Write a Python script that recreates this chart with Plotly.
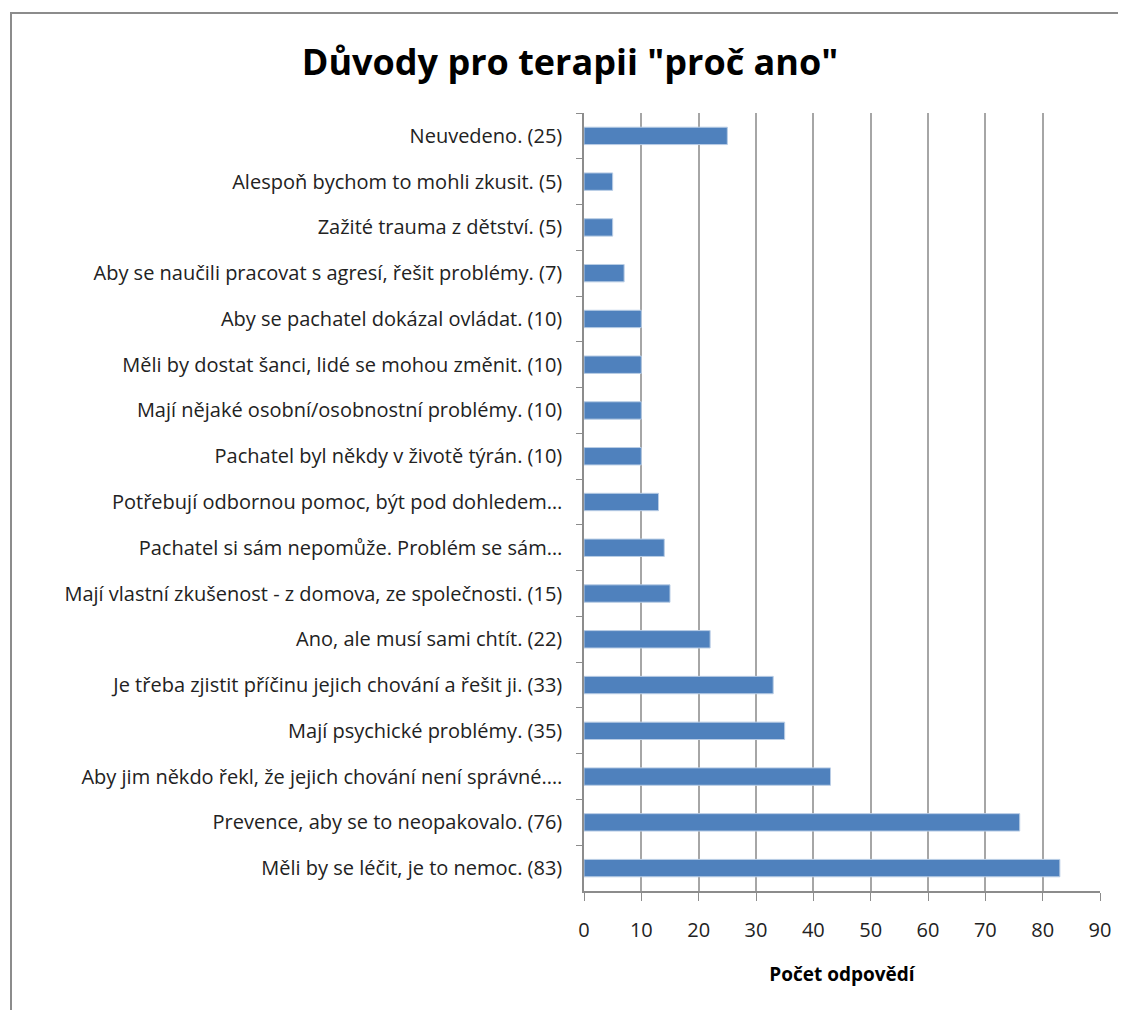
import plotly.graph_objects as go

# categories listed from top to bottom as in the chart
labels = [
    "Neuvedeno. (25)",
    "Alespoň bychom to mohli zkusit. (5)",
    "Zažité trauma z dětství. (5)",
    "Aby se naučili pracovat s agresí, řešit problémy. (7)",
    "Aby se pachatel dokázal ovládat. (10)",
    "Měli by dostat šanci, lidé se mohou změnit. (10)",
    "Mají nějaké osobní/osobnostní problémy. (10)",
    "Pachatel byl někdy v životě týrán. (10)",
    "Potřebují odbornou pomoc, být pod dohledem…",
    "Pachatel si sám nepomůže. Problém se sám…",
    "Mají vlastní zkušenost - z domova, ze společnosti. (15)",
    "Ano, ale musí sami chtít. (22)",
    "Je třeba zjistit příčinu jejich chování a řešit ji. (33)",
    "Mají psychické problémy. (35)",
    "Aby jim někdo řekl, že jejich chování není správné.…",
    "Prevence, aby se to neopakovalo. (76)",
    "Měli by se léčit, je to nemoc. (83)",
]
counts = [25, 5, 5, 7, 10, 10, 10, 10, 13, 14, 15, 22, 33, 35, 43, 76, 83]
x_ticks = list(range(0, 91, 10))

# the page body adds an 8px margin, so the figure is 8px smaller
W, H = 1118, 1002
L, R, T, B = 576, 26, 105, 119
pw, ph = W - L - R, H - T - B

fig = go.Figure()
fig.add_trace(go.Bar(
    x=counts, y=labels, orientation="h",
    marker=dict(color="#4f81bd", line=dict(color="#b9cde5", width=1)),
    hoverinfo="x+y",
))

font = "'Open Sans', Lato, sans-serif"

fig.update_layout(
    width=W, height=H,
    margin=dict(l=L, r=R, t=T, b=B, autoexpand=False),
    paper_bgcolor="white", plot_bgcolor="white",
    bargap=0.62,
    showlegend=False,
    font=dict(family=font, color="#1a1a1a"),
    title=dict(text='<b>Důvody pro terapii "proč ano"</b>',
               x=562 / W, xanchor="center", y=1 - 54 / H, yanchor="middle",
               font=dict(size=36, color="black")),
    xaxis=dict(
        range=[0, 90], tickvals=x_ticks, showgrid=True,
        gridcolor="#a6a6a6", gridwidth=1.5,
        showline=True, linecolor="#8c8c8c", linewidth=1.5,
        ticks="outside", ticklen=8, tickcolor="#8c8c8c",
        tickfont=dict(size=20, color="#222"), ticklabelstandoff=12,
        zeroline=False,
        title=dict(text="<b>Počet odpovědí</b>", font=dict(size=19, color="black"), standoff=26),
    ),
    yaxis=dict(
        autorange="reversed", type="category",
        showline=True, linecolor="#8c8c8c", linewidth=1.5,
        ticks="outside", ticklen=6, tickcolor="#8c8c8c", tickson="boundaries",
        tickfont=dict(size=20, color="#222"), ticklabelstandoff=16,
        showgrid=False,
    ),
)

# outer chart frame (runs off the right and bottom edges)
fig.add_shape(
    type="rect", xref="paper", yref="paper",
    x0=(3 - L) / pw, x1=(W + 10 - L) / pw,
    y0=-(B + 10) / ph, y1=1 + (T - 5) / ph,
    line=dict(color="#8c8c8c", width=2), fillcolor="rgba(0,0,0,0)", layer="below",
)

fig.write_html("out.html")
